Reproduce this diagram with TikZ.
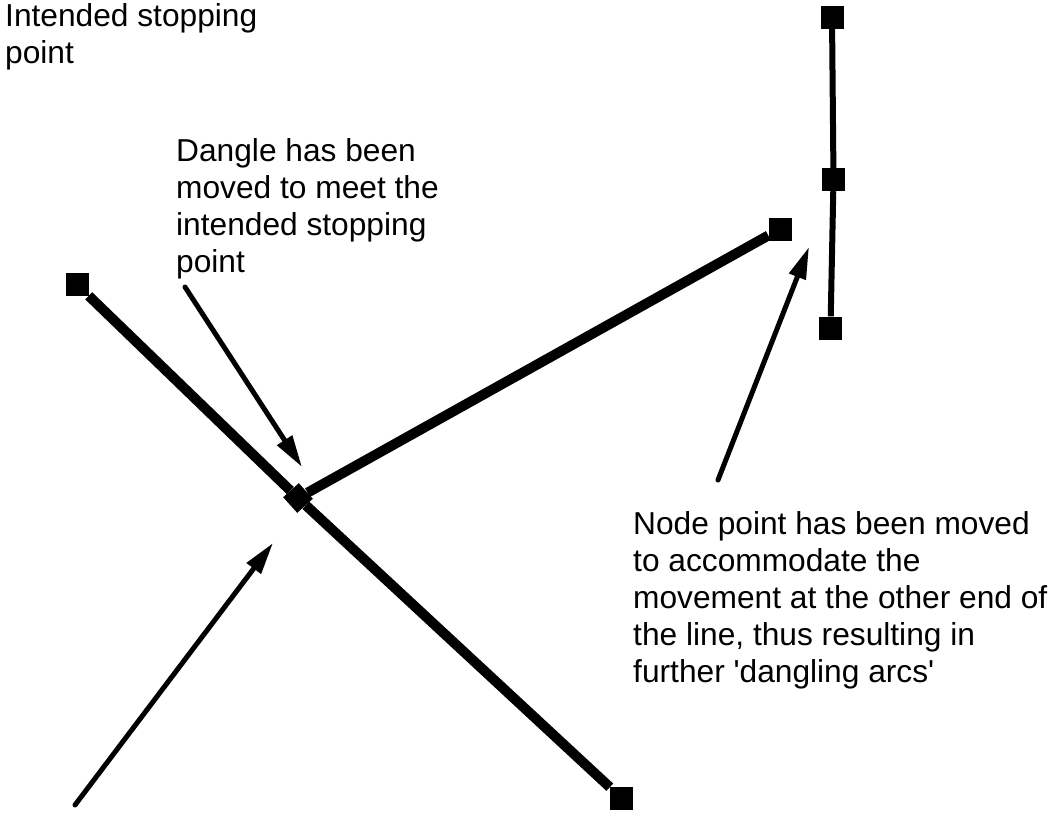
\documentclass[tikz,border=0pt]{standalone}
\usepackage{fontspec}
\setmainfont{Liberation Sans}
\usetikzlibrary{arrows.meta,positioning}

\begin{document}
\begin{tikzpicture}[x=1pt,y=-1pt,
  vertex/.style={fill=black,inner sep=0pt,minimum size=23pt},
  arc/.style={line width=10pt},
  thinarc/.style={line width=6pt},
  pointer/.style={line width=5pt,line cap=round,
                  -{Triangle[length=32pt,width=17pt]}},
  note/.style={align=left,inner sep=0pt,anchor=base west,
               font=\fontsize{31.7}{37}\selectfont}]
\useasboundingbox (0,0) rectangle (1054,815);

% node points of the arcs
\node[vertex] (top) at (832,17) {};
\node[vertex] (mid) at (833.5,179.5) {};
\node[vertex] (bot) at (830.5,328) {};
\node[vertex] (far) at (780,229) {};
\node[vertex] (tl) at (77,284.5) {};
\node[vertex] (br) at (621.5,798) {};
\node[vertex,minimum size=21pt,rotate=42] (dangle) at (298,498) {};

\draw[thinarc] (top) -- (mid) -- (bot);
\draw[arc] (tl) -- (dangle) -- (br);
\draw[arc] (dangle) -- (far);

% labels (anchored on the baseline of their last line)
\node[note] (stop) at (5,63) {Intended stopping\\point};
\node[note] (moved) at (176,272.5) {Dangle has been\\moved to meet the\\intended stopping\\point};
\node[note] (shift) at (633,682) {Node point has been moved\\to accommodate the\\movement at the other end of\\the line, thus resulting in\\further \textquotesingle dangling arcs\textquotesingle};

% arrows
\coordinate (movedtail) at (185,287);
\coordinate (movedtip) at (302,467);
\coordinate (shifttail) at (718,480);
\coordinate (shifttip) at (809,247);
\coordinate (lowtail) at (75,805);
\coordinate (lowtip) at (273,543);
\draw[pointer] (movedtail) -- (movedtip);
\draw[pointer] (shifttail) -- (shifttip);
\draw[pointer] (lowtail) -- (lowtip);
\end{tikzpicture}
\end{document}
